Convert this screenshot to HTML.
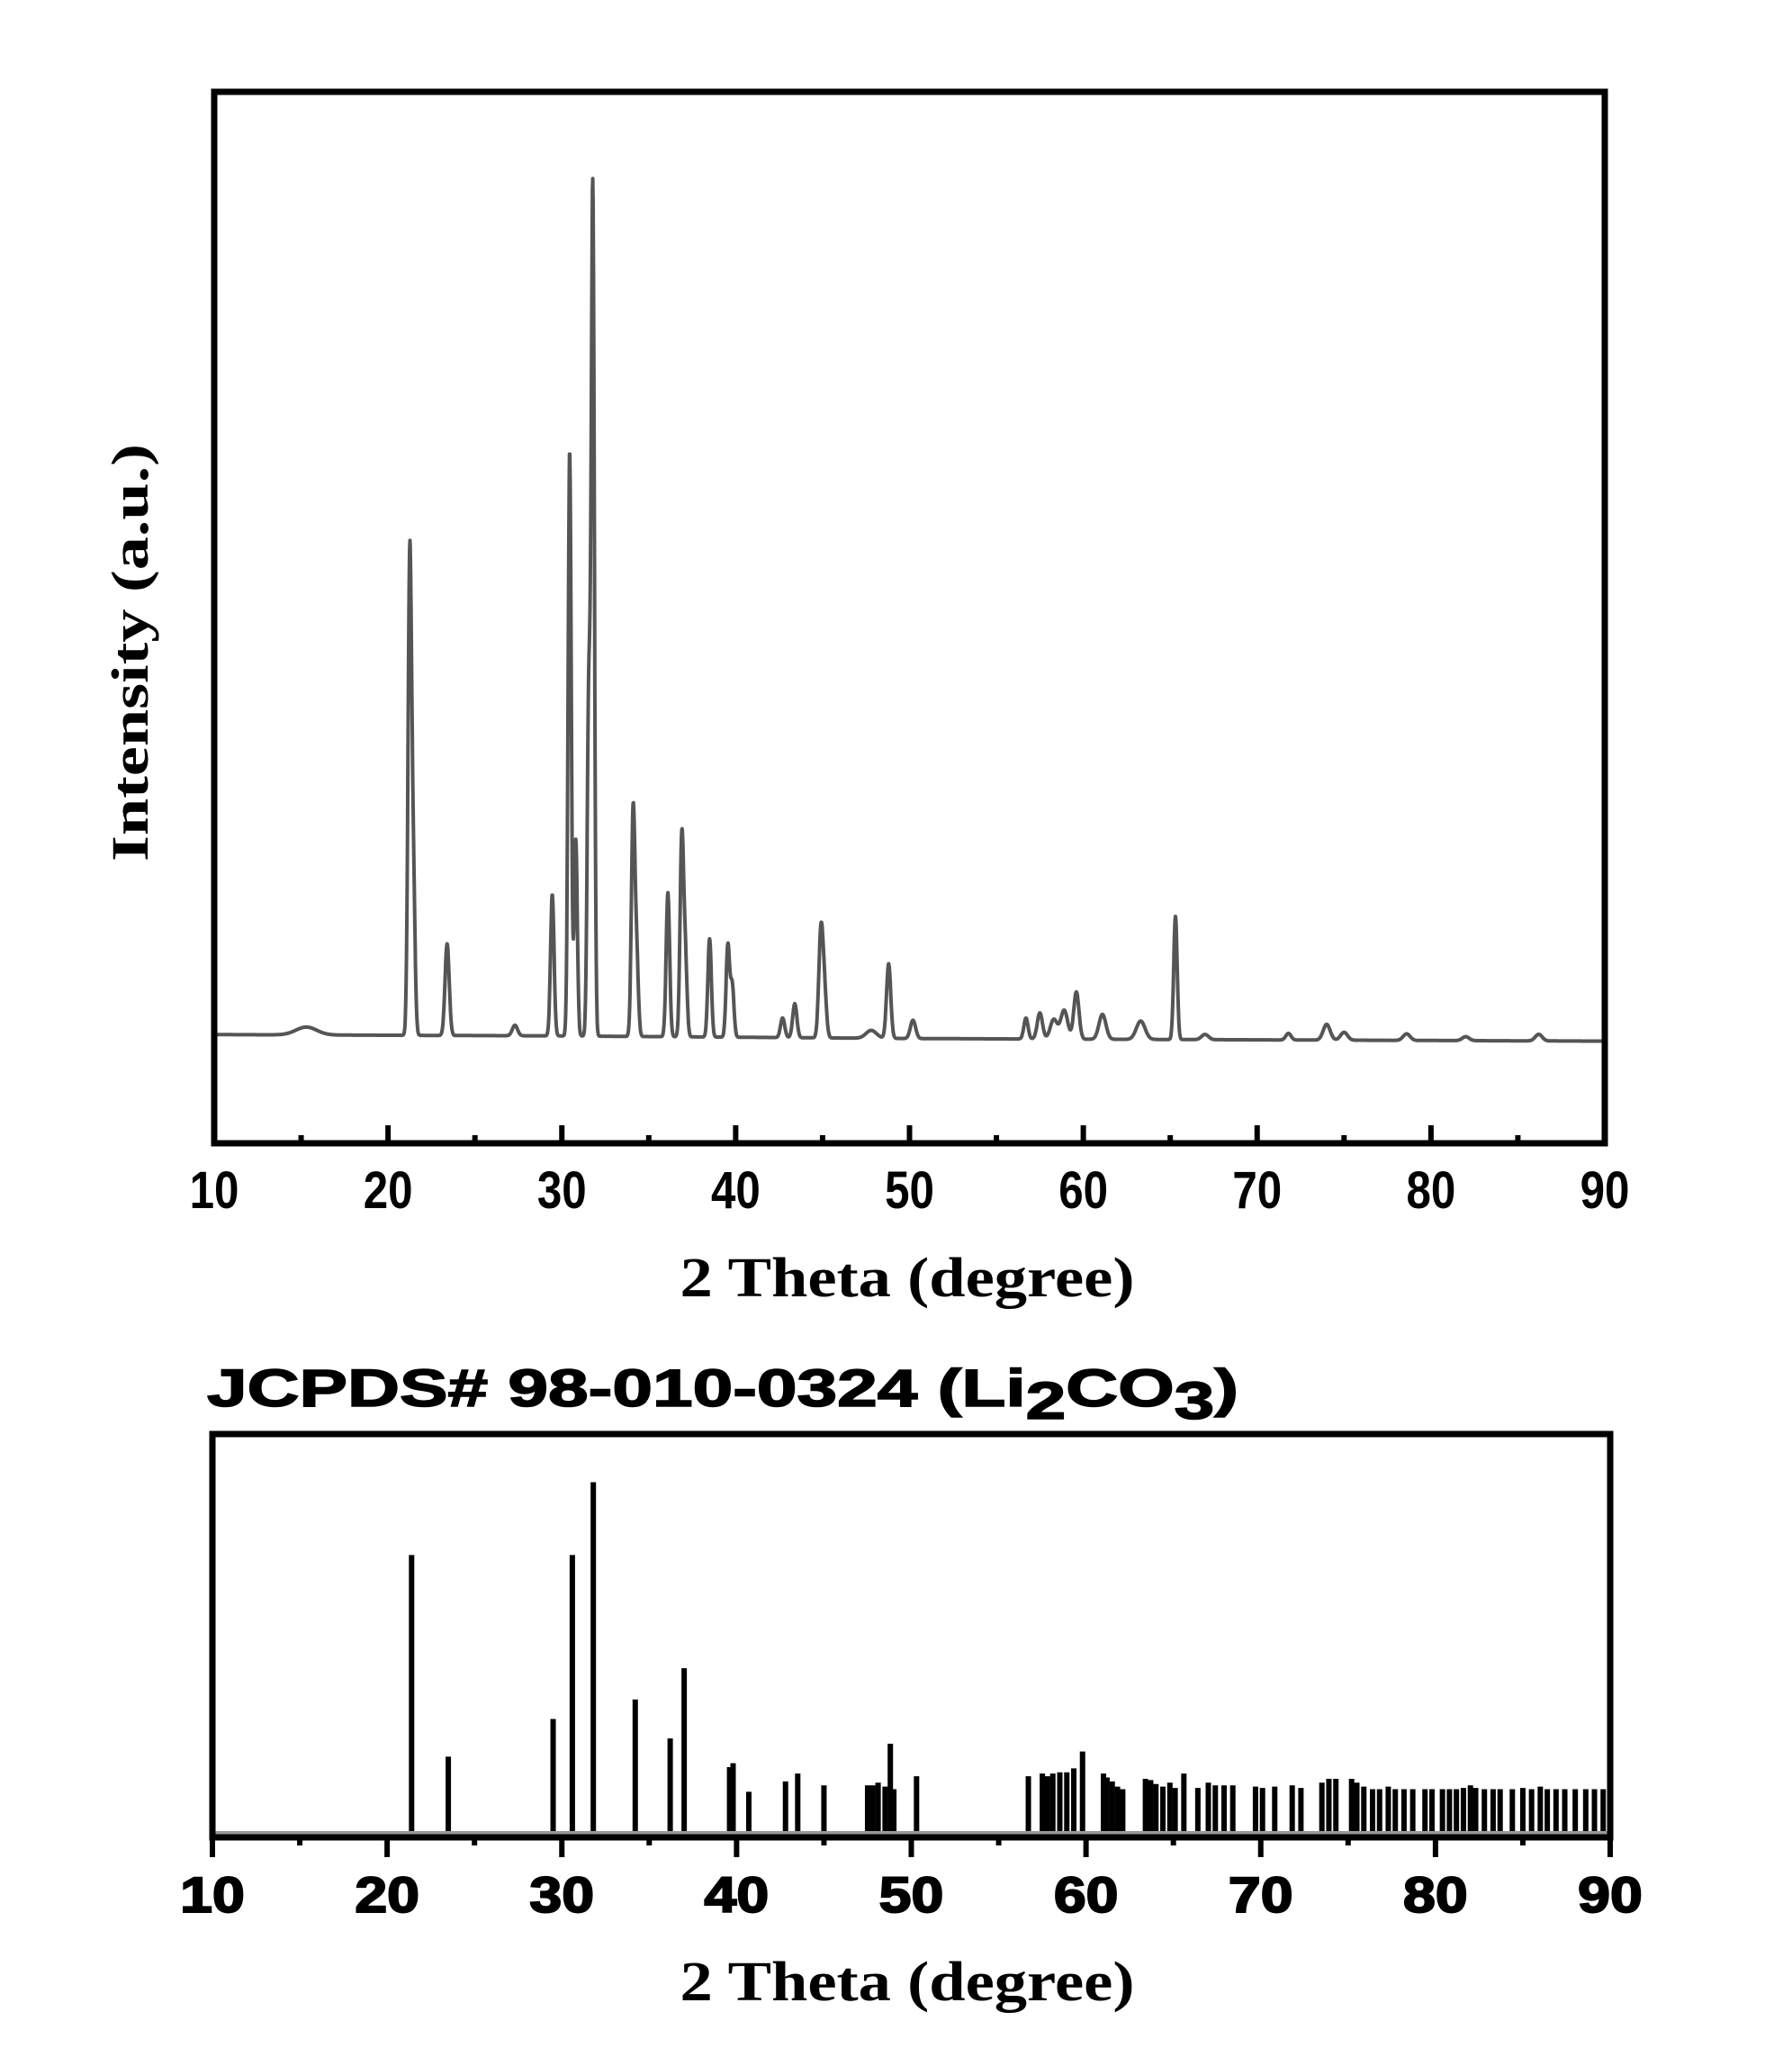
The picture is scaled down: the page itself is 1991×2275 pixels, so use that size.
<!DOCTYPE html>
<html><head><meta charset="utf-8"><style>
html,body{margin:0;padding:0;background:#fff;}
svg{display:block;}
</style></head><body>
<svg id="fig" width="1991" height="2275" viewBox="0 0 1991 2275" xmlns="http://www.w3.org/2000/svg">
<g id="topPlot"></g>
<g id="botPlot"></g>
</svg>
<script>
// ---- Top chart data ----
const peakPos    = [15.3,21.25,21.45,23.4,27.3,29.45,30.45,30.8,31.55,31.78,34.1,34.3,36.1,36.9,37.1,38.5,39.55,39.8,42.7,43.4,44.9,45.1,47.8,48.8,50.2,56.7,57.5,58.3,58.9,59.6,61.1,63.3,65.3,67.0,71.8,74.0,75.0,78.6,82.0,86.2];
const peakHeight = [6,360,120,70,8,108,447,150,260,645,170,60,110,150,60,75,70,40,15,26,78,35,6,57,14,16,20,15,22,36,19,14,94,4,5,12,6,5,3,5];
const peakWidth  = [0.6,0.1,0.1,0.12,0.15,0.1,0.09,0.09,0.09,0.09,0.1,0.1,0.1,0.1,0.1,0.1,0.1,0.1,0.12,0.12,0.12,0.12,0.3,0.12,0.15,0.12,0.15,0.2,0.2,0.15,0.2,0.25,0.1,0.2,0.15,0.2,0.2,0.2,0.2,0.2];
const baseX = [10,30,50,70,90];
const baseY = [83,82,80,79,78];
const xTicks = [10,20,30,40,50,60,70,80,90];
// ---- Bottom chart data ----
const refPos = [21.4,23.5,29.5,30.6,31.8,34.2,36.2,37.0,39.6,39.8,40.7,42.8,43.5,45.0,47.5,47.8,48.1,48.5,48.8,49.0,50.3,56.7,57.5,57.8,58.1,58.5,58.9,59.3,59.8,61.0,61.2,61.5,61.8,62.1,63.4,63.7,64.0,64.4,64.8,65.1,65.6,66.4,67.0,67.4,67.9,68.4,69.7,70.1,70.8,71.8,72.3,73.5,73.9,74.3,75.2,75.5,75.9,76.4,76.8,77.3,77.7,78.2,78.7,79.4,79.8,80.4,80.8,81.2,81.6,82.0,82.3,82.8,83.3,83.7,84.4,85.0,85.5,86.0,86.4,86.9,87.4,88.0,88.6,89.1,89.6];
const refInt = [217,62,91,217,273,106,76,130,54,57,35,43,49,40,40,40,42,39,72,37,47,47,49,47,49,50,50,53,66,49,46,43,39,37,45,44,41,39,42,38,49,38,42,40,40,40,39,38,39,40,38,42,45,45,45,42,39,37,37,39,37,37,37,37,37,37,37,37,38,40,38,37,37,37,37,38,37,39,37,37,37,37,37,37,37];

const NS="http://www.w3.org/2000/svg";
function mk(tag, attrs, parent){const e=document.createElementNS(NS,tag);for(const k in attrs)e.setAttribute(k,attrs[k]);parent.appendChild(e);return e;}

// ---- top axes ----
const T={x0:238,x1:1783,y0:1270,y1:102,ymax:803};
const tx=v=>T.x0+(v-10)/80*(T.x1-T.x0);
const ty=v=>T.y0-v/T.ymax*(T.y0-T.y1);
const topG=document.getElementById('topPlot');
function baseAt(x){for(let i=0;i<baseX.length-1;i++){if(x<=baseX[i+1]){const t=(x-baseX[i])/(baseX[i+1]-baseX[i]);return baseY[i]+t*(baseY[i+1]-baseY[i]);}}return baseY[baseY.length-1];}
let d='';
for(let x=10;x<=90.0001;x+=0.02){let y=baseAt(x);for(let i=0;i<peakPos.length;i++){const z=(x-peakPos[i])/peakWidth[i];y+=peakHeight[i]*Math.exp(-0.5*z*z);}d+=(d?'L':'M')+tx(x).toFixed(1)+' '+ty(y).toFixed(1);}
const line=mk('path',{d:d,fill:'none',stroke:'#555','stroke-width':4,'stroke-linejoin':'round'},topG);


for(let v=10;v<=90;v+=5){const major=v%10===0;const t=mk('line',{x1:tx(v),x2:tx(v),y1:T.y0,y2:T.y0-(major?20:9),stroke:'#000','stroke-width':6},topG);

}
const fr=mk('rect',{x:T.x0,y:T.y1,width:T.x1-T.x0,height:T.y0-T.y1,fill:'none',stroke:'#000','stroke-width':7},topG);


xTicks.forEach(v=>{const t=mk('text',{x:tx(v),y:1342,'text-anchor':'middle','font-family':'Liberation Sans, sans-serif','font-weight':'bold','font-size':58,transform:`translate(${tx(v)} 0) scale(0.85 1) translate(${-tx(v)} 0)`},topG);t.textContent=v;

});
let xt=mk('text',{x:1008,y:1440,'text-anchor':'middle','font-family':'Liberation Serif, serif','font-weight':'bold','font-size':62,textLength:505,lengthAdjust:'spacingAndGlyphs'},topG);xt.textContent='2 Theta (degree)';


let yt=mk('text',{x:0,y:0,'text-anchor':'middle','font-family':'Liberation Serif, serif','font-weight':'bold','font-size':58,textLength:464,lengthAdjust:'spacingAndGlyphs',transform:'translate(164 725) rotate(-90)'},topG);yt.textContent='Intensity (a.u.)';



// ---- bottom axes ----
const B={x0:236,x1:1789,y0:2041,y1:1593,ymax:310};
const bx=v=>B.x0+(v-10)/80*(B.x1-B.x0);
const by=v=>B.y0-v/B.ymax*(B.y0-B.y1);
const botG=document.getElementById('botPlot');
refPos.forEach((p,i)=>{const b=mk('line',{x1:bx(p),x2:bx(p),y1:by(0),y2:by(refInt[i]),stroke:'#000','stroke-width':6},botG);

});
mk('line',{x1:B.x0,x2:B.x1,y1:B.y0-5,y2:B.y0-5,stroke:'#999','stroke-width':4},botG);
const fr2=mk('rect',{x:B.x0,y:B.y1,width:B.x1-B.x0,height:B.y0-B.y1,fill:'none',stroke:'#000','stroke-width':7},botG);


for(let v=10;v<=90;v+=5){const major=v%10===0;const t=mk('line',{x1:bx(v),x2:bx(v),y1:B.y0,y2:B.y0+(major?22:9),stroke:'#000','stroke-width':6},botG);

}
xTicks.forEach(v=>{const t=mk('text',{x:bx(v),y:2124,'text-anchor':'middle','font-family':'Liberation Sans, sans-serif','font-weight':'900','font-size':56,transform:`translate(${bx(v)} 0) scale(1.15 1) translate(${-bx(v)} 0)`,stroke:'#000','stroke-width':2},botG);t.textContent=v;

});
let xt2=mk('text',{x:1008,y:2222,'text-anchor':'middle','font-family':'Liberation Serif, serif','font-weight':'bold','font-size':62,textLength:505,lengthAdjust:'spacingAndGlyphs'},botG);xt2.textContent='2 Theta (degree)';


let ttl=mk('text',{x:230,y:1562,'font-family':'Liberation Sans, sans-serif','font-weight':'bold','font-size':58,stroke:'#000','stroke-width':1.5,textLength:1146,lengthAdjust:'spacingAndGlyphs'},botG);
ttl.innerHTML='JCPDS# 98-010-0324 (Li<tspan dy="14">2</tspan><tspan dy="-14">CO</tspan><tspan dy="14">3</tspan><tspan dy="-14">)</tspan>';


</script>
</body></html>
